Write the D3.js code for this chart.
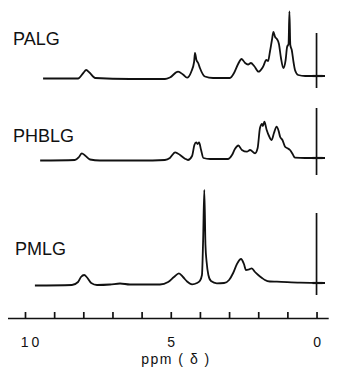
<!DOCTYPE html>
<html>
<head>
<meta charset="utf-8">
<script src="https://cdn.jsdelivr.net/npm/d3@7"></script>
<style>
  html, body { margin: 0; padding: 0; background: #fff; }
  svg { display: block; }
  text { font-family: "Liberation Sans", Arial, sans-serif; fill: #111; }
</style>
</head>
<body>
<svg id="chart" width="342" height="380"></svg>
<script>
// 1H NMR spectra of three poly(glutamate)s; chemical shift in ppm, intensity in arbitrary units
const samples = ["PALG", "PHBLG", "PMLG"];

// [ppm, intensity] pairs for each trace, ordered from low field to high field
const palgSpectrum = [
  [9.38, -2.5], [8.18, -2.5], [8.00, 3], [7.90, 6], [7.79, 3.5], [7.59, -2], [6.40, -3], [5.20, -3],
  [5.03, -1.5], [4.75, 4.3], [4.58, 1.5], [4.44, -1.7], [4.30, 4], [4.20, 14], [4.17, 23], [4.12, 16],
  [4.06, 13], [4.00, 8], [3.83, -0.5], [3.55, -2], [2.97, -2], [2.83, 3], [2.69, 12], [2.57, 17],
  [2.45, 13], [2.35, 11.5], [2.25, 13], [2.14, 10], [1.99, 4.3], [1.84, 9], [1.72, 16], [1.66, 15],
  [1.60, 24], [1.53, 36], [1.48, 44], [1.42, 39], [1.36, 37], [1.29, 32], [1.22, 18], [1.14, 8],
  [1.06, 16], [1.01, 29], [0.96, 32], [0.93, 64.5], [0.90, 31], [0.85, 26], [0.79, 14], [0.74, 6],
  [0.63, 1], [0.39, 0], [-0.29, 0]
];
const phblgSpectrum = [
  [9.48, -2.5], [8.29, -2], [8.15, 1], [8.05, 4.7], [7.94, 2.5], [7.77, -1.5], [7.43, -2.5], [6.05, -2.5],
  [5.20, -2], [5.03, 0], [4.85, 5.7], [4.68, 3], [4.51, -0.7], [4.41, -2], [4.27, 2], [4.19, 13],
  [4.13, 15.7], [4.08, 14], [4.03, 15.5], [3.96, 8], [3.88, 0], [3.65, -1], [3.04, -1], [2.90, 3],
  [2.80, 9], [2.68, 12.5], [2.56, 8], [2.39, 6.3], [2.28, 8], [2.11, 4.7], [2.02, 10], [1.94, 30],
  [1.87, 34], [1.84, 32], [1.79, 36.3], [1.71, 28], [1.63, 22], [1.54, 18], [1.46, 25], [1.37, 31.3],
  [1.30, 27], [1.25, 21.3], [1.17, 18], [1.08, 11.3], [0.98, 9.5], [0.91, 8], [0.82, 4], [0.74, 0.3],
  [0.39, 0], [-0.29, 0]
];
const pmlgSpectrum = [
  [9.66, -2.5], [8.39, -2], [8.18, 1], [8.08, 6], [7.97, 8], [7.87, 5.5], [7.73, 0], [7.53, -2],
  [7.08, -1.5], [6.74, -0.5], [6.40, -1.5], [5.37, -1.5], [5.09, 1], [4.89, 6], [4.72, 9.7], [4.58, 6],
  [4.44, 1.5], [4.27, -1.3], [4.10, 0], [4.00, 2.3], [3.93, 8], [3.89, 43], [3.85, 93], [3.81, 38],
  [3.77, 21], [3.71, 8], [3.62, 2], [3.42, -0.3], [3.17, 0], [3.00, 3], [2.86, 10], [2.73, 19],
  [2.59, 24], [2.49, 19], [2.42, 13], [2.33, 13.5], [2.22, 14.7], [2.11, 11], [2.00, 8], [1.87, 5],
  [1.77, 3], [1.60, 1.5], [1.36, 1.3], [0.57, 0.3], [-0.29, 0]
];
const spectra = [palgSpectrum, phblgSpectrum, pmlgSpectrum];

// TMS reference signal at 0 ppm: [top, bottom] intensity of the marker for each trace
const tmsMarks = [[43, -12], [50, -17], [70, -12]];

// axis ticks (ppm) and the ones that carry a label
const tickValues = [0, 1, 2, 3, 4, 5, 6, 7, 8, 9, 10];
const labelledTicks = [10, 5, 0];

// ---- layout ----
const svg = d3.select("#chart");
const axisY = 318;
const baselines = [76, 158, 283];          // pixel row of each trace's zero intensity
const labelPos = [[13, 45], [13, 142], [15, 255]];

const x = d3.scaleLinear().domain([10.6, -0.4]).range([7.5, 328.2]);

spectra.forEach((data, i) => {
  const y = d3.scaleLinear().domain([0, 100]).range([baselines[i], baselines[i] - 100]);
  const g = svg.append("g");

  g.append("path")
    .datum(data)
    .attr("fill", "none")
    .attr("stroke", "#111")
    .attr("stroke-width", 1.8)
    .attr("stroke-linejoin", "round")
    .attr("d", d3.line().x(d => x(d[0])).y(d => y(d[1])).curve(d3.curveMonotoneX));

  // TMS marker: vertical line with a short cross bar on the baseline
  const [top, bottom] = tmsMarks[i];
  g.append("line")
    .attr("x1", x(0)).attr("x2", x(0))
    .attr("y1", y(top)).attr("y2", y(bottom))
    .attr("stroke", "#111").attr("stroke-width", 1.7);
  g.append("line")
    .attr("x1", x(0) - 4).attr("x2", x(0) + 6)
    .attr("y1", y(0)).attr("y2", y(0))
    .attr("stroke", "#111").attr("stroke-width", 2.2);

  svg.append("text")
    .attr("x", labelPos[i][0]).attr("y", labelPos[i][1])
    .attr("font-size", 18)
    .text(samples[i]);
});

// ---- ppm axis, ticks pointing up ----
const axis = d3.axisBottom(x)
  .tickValues(tickValues)
  .tickSizeInner(-6)
  .tickSizeOuter(0)
  .tickPadding(19)
  .tickFormat(d => labelledTicks.includes(d) ? String(d) : "");

const ax = svg.append("g")
  .attr("transform", `translate(0,${axisY})`)
  .call(axis);
ax.select(".domain").attr("stroke", "#111").attr("stroke-width", 1.7);
ax.selectAll(".tick line").attr("stroke", "#111").attr("stroke-width", 1.7);
ax.selectAll(".tick text")
  .attr("font-size", 14)
  .attr("font-family", "Liberation Sans, Arial, sans-serif")
  .attr("fill", "#111")
  .attr("letter-spacing", "3px")
  .attr("dx", d => d === 10 ? 6 : 1.5);

svg.append("text")
  .attr("x", 176).attr("y", 364)
  .attr("text-anchor", "middle")
  .attr("font-size", 14)
  .attr("letter-spacing", "1.5px")
  .text("ppm ( δ )");
</script>
</body>
</html>
